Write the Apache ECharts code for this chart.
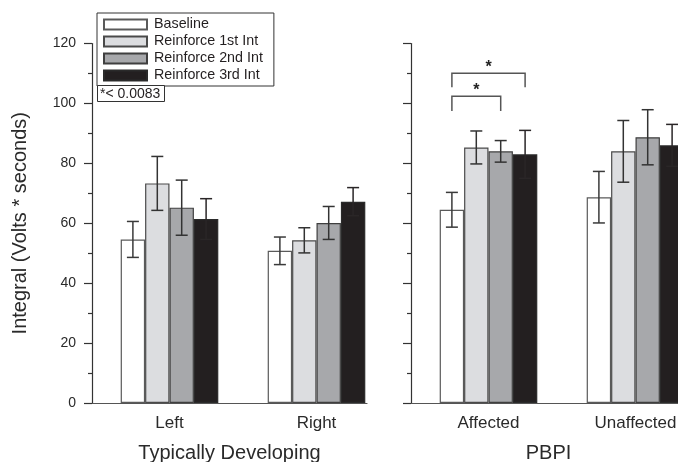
<!DOCTYPE html>
<html>
<head>
<meta charset="utf-8">
<script src="https://cdn.jsdelivr.net/npm/echarts@6/dist/echarts.min.js"></script>
<style>
  html, body { margin: 0; padding: 0; background: #fff; }
  #chart { width: 678px; height: 462px; }
</style>
</head>
<body>
<div id="chart"></div>
<script>
// Conditions (one bar per condition within every group)
const conditions = ['Baseline', 'Reinforce 1st Int', 'Reinforce 2nd Int', 'Reinforce 3rd Int'];

// Typically Developing panel
const tdGroups = ['Left', 'Right'];
const tdMeans = [      // [Left, Right] for each condition
  [54.6, 50.8],
  [73.3, 54.3],
  [65.2, 60.1],
  [61.4, 67.2]
];
const tdErrors = [
  [6.0, 4.6],
  [9.0, 4.2],
  [9.2, 5.5],
  [6.8, 4.7]
];

// PBPI panel
const pbGroups = ['Affected', 'Unaffected'];
const pbMeans = [      // [Affected, Unaffected] for each condition
  [64.5, 68.7],
  [85.3, 84.0],
  [84.0, 88.7],
  [83.0, 86.0]
];
const pbErrors = [
  [5.8, 8.6],
  [5.5, 10.3],
  [3.6, 9.2],
  [8.0, 7.0]
];

// Significance brackets in the PBPI panel: [group, fromCondition, toCondition, bar level, leg end]
const pbBrackets = [
  [0, 0, 2, 102.4, 97.5],
  [0, 0, 3, 110.1, 105.4]
];

const yTicks = [0, 20, 40, 60, 80, 100, 120];
const sigNote = '*< 0.0083';

const FONT = '"Liberation Sans", Arial, Helvetica, sans-serif';
const fills = ['#ffffff', '#dcdde0', '#a7a8ab', '#231f20'];
const borders = ['#5a5a5a', '#4a4a4a', '#3f3f3f', '#2a2a2a'];
const whiskers = ['#3a3a3a', '#333333', '#333333', '#2a2627'];
const BAR_FRAC = 0.166;   // bar width as a share of each category band

const TOP = 43.5, HEIGHT = 359.5;

function barSeries(means, xi) {
  return conditions.map((name, k) => ({
    type: 'bar',
    name: name,
    xAxisIndex: xi,
    yAxisIndex: xi,
    data: means[k],
    barWidth: (BAR_FRAC * 100) + '%',
    barGap: '0%',
    itemStyle: { color: fills[k], borderColor: borders[k], borderWidth: 1.2 },
    emphasis: { disabled: true },
    z: 3
  }));
}

function errorSeries(means, errs, xi) {
  const data = [];
  means.forEach((row, k) => row.forEach((m, c) => data.push([c, m, errs[k][c], k])));
  return {
    type: 'custom',
    xAxisIndex: xi,
    yAxisIndex: xi,
    data: data,
    encode: { x: 0, y: 1 },
    z: 5,
    silent: true,
    renderItem: function (params, api) {
      const c = api.value(0), m = api.value(1), e = api.value(2), k = api.value(3);
      const band = api.size([1, 0])[0];
      const bw = band * BAR_FRAC;
      const x = api.coord([c, m])[0] + (k - 1.5) * bw;
      const yHi = api.coord([c, m + e])[1];
      const yLo = api.coord([c, m - e])[1];
      const cap = 6;
      const st = { stroke: whiskers[k], lineWidth: 1.5 };
      return {
        type: 'group',
        children: [
          { type: 'line', shape: { x1: x, y1: yHi, x2: x, y2: yLo }, style: st },
          { type: 'line', shape: { x1: x - cap, y1: yHi, x2: x + cap, y2: yHi }, style: st },
          { type: 'line', shape: { x1: x - cap, y1: yLo, x2: x + cap, y2: yLo }, style: st }
        ]
      };
    }
  };
}

function bracketSeries(brackets, xi) {
  return {
    type: 'custom',
    xAxisIndex: xi,
    yAxisIndex: xi,
    data: brackets,
    encode: { x: 0, y: 3 },
    z: 5,
    silent: true,
    renderItem: function (params, api) {
      const c = api.value(0), a = api.value(1), b = api.value(2);
      const level = api.value(3), leg = api.value(4);
      const band = api.size([1, 0])[0];
      const bw = band * BAR_FRAC;
      const cx = api.coord([c, level])[0];
      const x1 = cx + (a - 1.5) * bw;
      const x2 = cx + (b - 1.5) * bw;
      const yL = api.coord([c, level])[1];
      const yE = api.coord([c, leg])[1];
      const st = { stroke: '#555', lineWidth: 1.5, fill: null };
      return {
        type: 'group',
        children: [
          { type: 'polyline', shape: { points: [[x1, yE], [x1, yL], [x2, yL], [x2, yE]] }, style: st },
          { type: 'text', style: { text: '*', x: (x1 + x2) / 2, y: yL + 2, align: 'center', verticalAlign: 'bottom',
              fill: '#222', font: 'bold 16px ' + FONT } }
        ]
      };
    }
  };
}

function frameAxes(name, gi, showLabels) {
  const x = {
    type: 'value', gridIndex: gi, min: 0, max: 1,
    axisLine: { show: true, lineStyle: { color: '#555', width: 1.2 } },
    axisTick: { show: false }, axisLabel: { show: false }, splitLine: { show: false },
    name: name, nameLocation: 'middle', nameGap: 40,
    nameTextStyle: { fontFamily: FONT, fontSize: 20, color: '#2a2a2a' }
  };
  const y = {
    type: 'value', gridIndex: gi, min: 0, max: 120, interval: 20,
    axisLine: { show: true, lineStyle: { color: '#333', width: 1.2 } },
    axisTick: { show: true, length: 8, lineStyle: { color: '#333', width: 1.2 } },
    minorTick: { show: true, splitNumber: 2, length: 4, lineStyle: { color: '#333', width: 1.2 } },
    splitLine: { show: false },
    axisLabel: { show: showLabels, margin: 16, fontFamily: FONT, fontSize: 14, color: '#2a2a2a',
      formatter: v => (yTicks.indexOf(v) >= 0 ? String(v) : '') }
  };
  if (showLabels) {
    y.name = 'Integral (Volts * seconds)';
    y.nameLocation = 'middle';
    y.nameGap = 62;
    y.nameTextStyle = { fontFamily: FONT, fontSize: 20, color: '#2a2a2a' };
  }
  return { x, y };
}

function barAxes(groups, gi) {
  return {
    x: {
      type: 'category', gridIndex: gi, data: groups,
      axisLine: { show: false }, axisTick: { show: false },
      axisLabel: { margin: 12, fontFamily: FONT, fontSize: 17, color: '#2a2a2a' }
    },
    y: { type: 'value', gridIndex: gi, min: 0, max: 120, show: false }
  };
}

// grids: 0/2 hold the framing axes, 1/3 hold the bars
const fL = frameAxes('Typically Developing', 0, true);
const bL = barAxes(tdGroups, 1);
const fR = frameAxes('PBPI', 2, false);
const bR = barAxes(pbGroups, 3);

const gridBase = { top: TOP, height: HEIGHT, outerBoundsMode: 'none', containLabel: false };

const option = {
  animation: false,
  backgroundColor: '#ffffff',
  textStyle: { fontFamily: FONT },
  grid: [
    Object.assign({ left: 92, width: 275 }, gridBase),
    Object.assign({ left: 96, width: 294 }, gridBase),
    Object.assign({ left: 411, width: 275 }, gridBase),
    Object.assign({ left: 415, width: 294 }, gridBase)
  ],
  xAxis: [fL.x, bL.x, fR.x, bR.x],
  yAxis: [fL.y, bL.y, fR.y, bR.y],
  legend: {
    orient: 'vertical',
    left: 97, top: 13,
    data: conditions,
    itemWidth: 43, itemHeight: 10, itemGap: 0,
    padding: [3, 11, 2, 6],
    borderColor: '#333', borderWidth: 1,
    backgroundColor: '#fff',
    icon: 'rect',
    selectedMode: false,
    textStyle: { fontFamily: FONT, fontSize: 14.3, color: '#231f20', padding: [0, 0, 0, 2], lineHeight: 17 }
  },
  title: {
    text: sigNote,
    left: 97, top: 85,
    padding: [2, 4, 1, 3],
    borderColor: '#333', borderWidth: 1,
    backgroundColor: '#fff',
    textStyle: { fontFamily: FONT, fontSize: 14, fontWeight: 'normal', color: '#231f20' }
  },
  series: [
    ...barSeries(tdMeans, 1),
    errorSeries(tdMeans, tdErrors, 1),
    ...barSeries(pbMeans, 3),
    errorSeries(pbMeans, pbErrors, 3),
    bracketSeries(pbBrackets, 3)
  ]
};

const chart = echarts.init(document.getElementById('chart'), null, { renderer: 'canvas' });
chart.setOption(option);
</script>
</body>
</html>
